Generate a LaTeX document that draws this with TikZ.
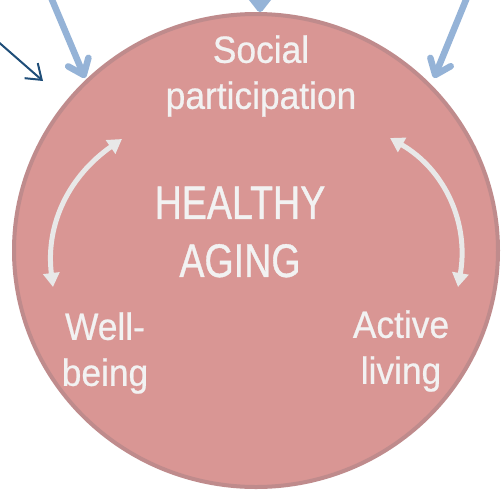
\documentclass[tikz,border=0pt]{standalone}
\usepackage{fontspec}
\setmainfont{Liberation Sans}
\newfontfamily\labfont[FakeStretch=0.93,FakeBold=0.6]{Liberation Sans}
\newfontfamily\hafont[FakeStretch=0.8,FakeBold=0.8]{Liberation Sans}
\usetikzlibrary{arrows.meta}
\definecolor{fillc}{HTML}{D99694}
\definecolor{edgec}{HTML}{BF8B8C}
\definecolor{txtc}{HTML}{F2F2F2}
\definecolor{arrc}{HTML}{E8E8E8}
\definecolor{lblue}{HTML}{95B3D7}
\definecolor{dblue}{HTML}{1F4E79}
\begin{document}
\begin{tikzpicture}[x=1pt,y=1pt,
  lab/.style={text=txtc, font=\labfont\fontsize{38}{46}\selectfont, align=center, inner sep=0pt},
  titlelab/.style={text=txtc, font=\hafont\fontsize{47}{58}\selectfont, align=center, inner sep=0pt},
  cyc/.style={draw=arrc, line width=5pt, {Triangle[length=14pt,width=16pt]}-{Triangle[length=14pt,width=16pt]}},
  inarrow/.style={draw=lblue, line width=6.5pt, line cap=round, -{Straight Barb[length=14pt,width=22pt,round]}},
  darrow/.style={draw=dblue, line width=2pt, -{Straight Barb[length=14pt,width=20pt]}},
  blob/.style={fill=fillc, draw=edgec, line width=4pt}
]
\useasboundingbox (0,0) rectangle (501,-491);
\fill[white] (0,0) rectangle (501,-491);

% big circle
\draw[blob] (256,-250.5) ellipse [x radius=242, y radius=236.5];

% texts
\node[lab] (soc) at (261,-76) {Social\\participation};
\node[lab] (well) at (105,-353) {Well-\\being};
\node[lab] (act) at (401,-351) {Active\\living};
\node[titlelab] (ha) at (240,-232) {HEALTHY\\AGING};

% cycle arrows
\coordinate (l1) at (53,-287);
\coordinate (l2) at (122,-139);
\coordinate (r1) at (390,-138);
\coordinate (r2) at (458,-287);
\draw[cyc] (l1) to[out=97,in=215] (l2);
\draw[cyc] (r1) to[out=-30,in=80] (r2);

% incoming arrows
\coordinate (d0) at (-5,-39);
\coordinate (d1) at (43,-81);
\draw[darrow] (d0) -- (d1);
\coordinate (a0) at (50,5);
\coordinate (a1) at (85,-78);
\draw[inarrow] (a0) -- (a1);
\coordinate (b0) at (260,40);
\coordinate (b1) at (260,-12);
\draw[inarrow] (b0) -- (b1);
\coordinate (c0) at (468,5);
\coordinate (c1) at (434,-78);
\draw[inarrow] (c0) -- (c1);
\end{tikzpicture}
\end{document}
